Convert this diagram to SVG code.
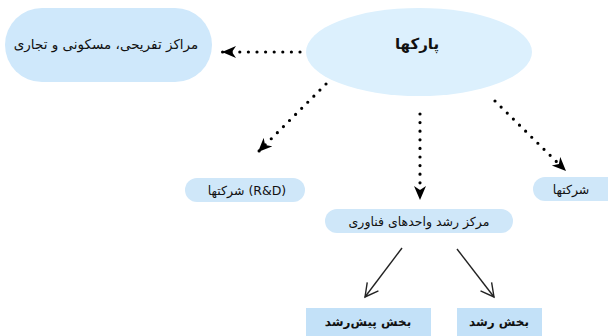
<svg xmlns="http://www.w3.org/2000/svg" width="608" height="336" viewBox="0 0 608 336">
<style>
.t{font-family:"DejaVu Sans",sans-serif;fill:#111;text-anchor:middle;dominant-baseline:central}
.pill{fill:#cfe7f9}
.box{fill:#c3e1f8}
.dot{fill:none;stroke:#000;stroke-width:3.2;stroke-linecap:round;stroke-dasharray:0 8.6}
.sol{fill:none;stroke:#222;stroke-width:1.4}
</style>
<defs>
<marker id="dh" markerUnits="userSpaceOnUse" markerWidth="16" markerHeight="14" refX="14" refY="6" orient="auto" viewBox="0 0 16 12">
<path d="M0,0 L14,6 L0,12 L4,6 Z" fill="#000"/>
</marker>
<marker id="oh" markerUnits="userSpaceOnUse" markerWidth="16" markerHeight="16" refX="14" refY="8" orient="auto" viewBox="0 0 16 16">
<path d="M1,1 L14,8 L1,15" fill="none" stroke="#222" stroke-width="1.4"/>
</marker>
</defs>
<g id="n-parks">
<ellipse cx="419" cy="52" rx="113" ry="44" fill="#dcf0fd"/>
<text class="t" x="417" y="44" font-size="15" font-weight="bold">پارکها</text>
</g>
<g id="n-centers">
<rect x="5" y="8" width="207" height="74" rx="37" fill="#cfe8fb"/>
<text class="t" x="106" y="44" font-size="13.5">مراکز تفریحی، مسکونی و تجاری</text>
</g>
<g id="n-rd">
<rect class="pill" x="185" y="178" width="120" height="24" rx="12"/>
<text class="t" x="247" y="190" font-size="12.5" direction="ltr">شرکتها (R&amp;D)</text>
</g>
<g id="n-companies">
<rect class="pill" x="533" y="177" width="90" height="24" rx="12"/>
<text class="t" x="571" y="189" font-size="12.5">شرکتها</text>
</g>
<g id="n-incubator">
<rect class="pill" x="325" y="209" width="188" height="24" rx="12"/>
<text class="t" x="419" y="221" font-size="12.5">مرکز رشد واحدهای فناوری</text>
</g>
<g id="n-preincubation">
<rect class="box" x="306" y="308" width="125" height="28"/>
<text class="t" x="368" y="322" font-size="12" font-weight="bold">بخش پیش‌رشد</text>
</g>
<g id="n-growth">
<rect class="box" x="457" y="308" width="85" height="28"/>
<text class="t" x="499" y="322" font-size="12" font-weight="bold">بخش رشد</text>
</g>
<g id="connectors">
<path class="dot" d="M300,52 L222,52" marker-end="url(#dh)"/>
<path class="dot" d="M326,84 L258,152" marker-end="url(#dh)"/>
<path class="dot" d="M495,101 L566,171" marker-end="url(#dh)"/>
<path class="dot" d="M420,114 L420,200" marker-end="url(#dh)"/>
<path class="sol" d="M402,248 L365,297" marker-end="url(#oh)"/>
<path class="sol" d="M457,249 L494,297" marker-end="url(#oh)"/>
</g>
</svg>
